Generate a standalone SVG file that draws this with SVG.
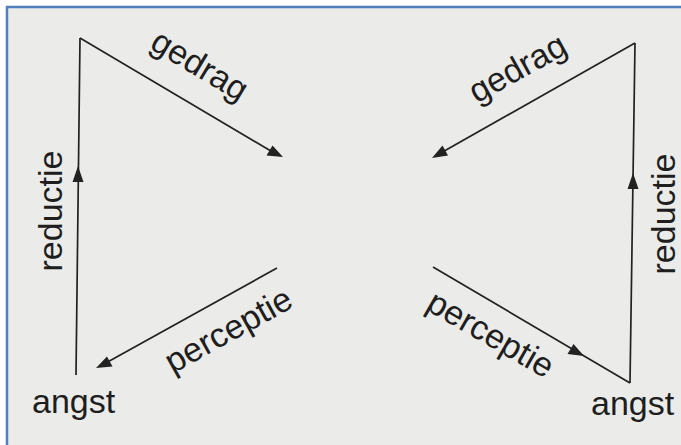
<svg xmlns="http://www.w3.org/2000/svg" width="681" height="445" viewBox="0 0 681 445">
<style>
.lbl{font-family:"Liberation Sans",Arial,Helvetica,sans-serif;font-size:34px;fill:#1e1e1e}
.ln{stroke:#222;stroke-width:1.7;fill:none}
.ah{fill:#222}
</style>
<rect x="0" y="0" width="681" height="445" fill="#ffffff"/>
<rect x="7" y="7" width="680" height="445" fill="#ebebe9"/>
<path d="M7 445 V7 H681" stroke="#4f81bd" stroke-width="2.5" fill="none"/>
<g id="connectors">
  <line class="ln" x1="76" y1="375" x2="80" y2="38"/>
  <polygon class="ah" points="78,166 72.5,182 83.5,182"/>
  <line class="ln" x1="80" y1="38" x2="276" y2="154"/>
  <polygon class="ah" points="283,157 266.5,155.5 272.5,145.5"/>
  <line class="ln" x1="277" y1="268" x2="104" y2="364"/>
  <polygon class="ah" points="96,368 107,356.5 112.5,366.5"/>
  <line class="ln" x1="630" y1="383" x2="635" y2="43"/>
  <polygon class="ah" points="633,173 627.5,189 638.5,189"/>
  <line class="ln" x1="635" y1="43" x2="439" y2="154"/>
  <polygon class="ah" points="432,158 442.5,145.5 448,155.5"/>
  <line class="ln" x1="433" y1="267" x2="630" y2="383"/>
  <polygon class="ah" points="584,356 567.5,354 573.5,344"/>
</g>
<g id="angst-left"><text class="lbl" x="32" y="413">angst</text></g>
<g id="angst-right"><text class="lbl" x="591" y="415">angst</text></g>
<g id="reductie-left"><text class="lbl" text-anchor="middle" transform="translate(62,211) rotate(-90)">reductie</text></g>
<g id="reductie-right"><text class="lbl" text-anchor="middle" transform="translate(675,214) rotate(-90)">reductie</text></g>
<g id="gedrag-left"><text class="lbl" text-anchor="middle" transform="translate(194,75) rotate(31)">gedrag</text></g>
<g id="gedrag-right"><text class="lbl" text-anchor="middle" transform="translate(523,78) rotate(-29)">gedrag</text></g>
<g id="perceptie-left"><text class="lbl" text-anchor="middle" transform="translate(234,340) rotate(-29)">perceptie</text></g>
<g id="perceptie-right"><text class="lbl" text-anchor="middle" transform="translate(485,344) rotate(30)">perceptie</text></g>
</svg>
